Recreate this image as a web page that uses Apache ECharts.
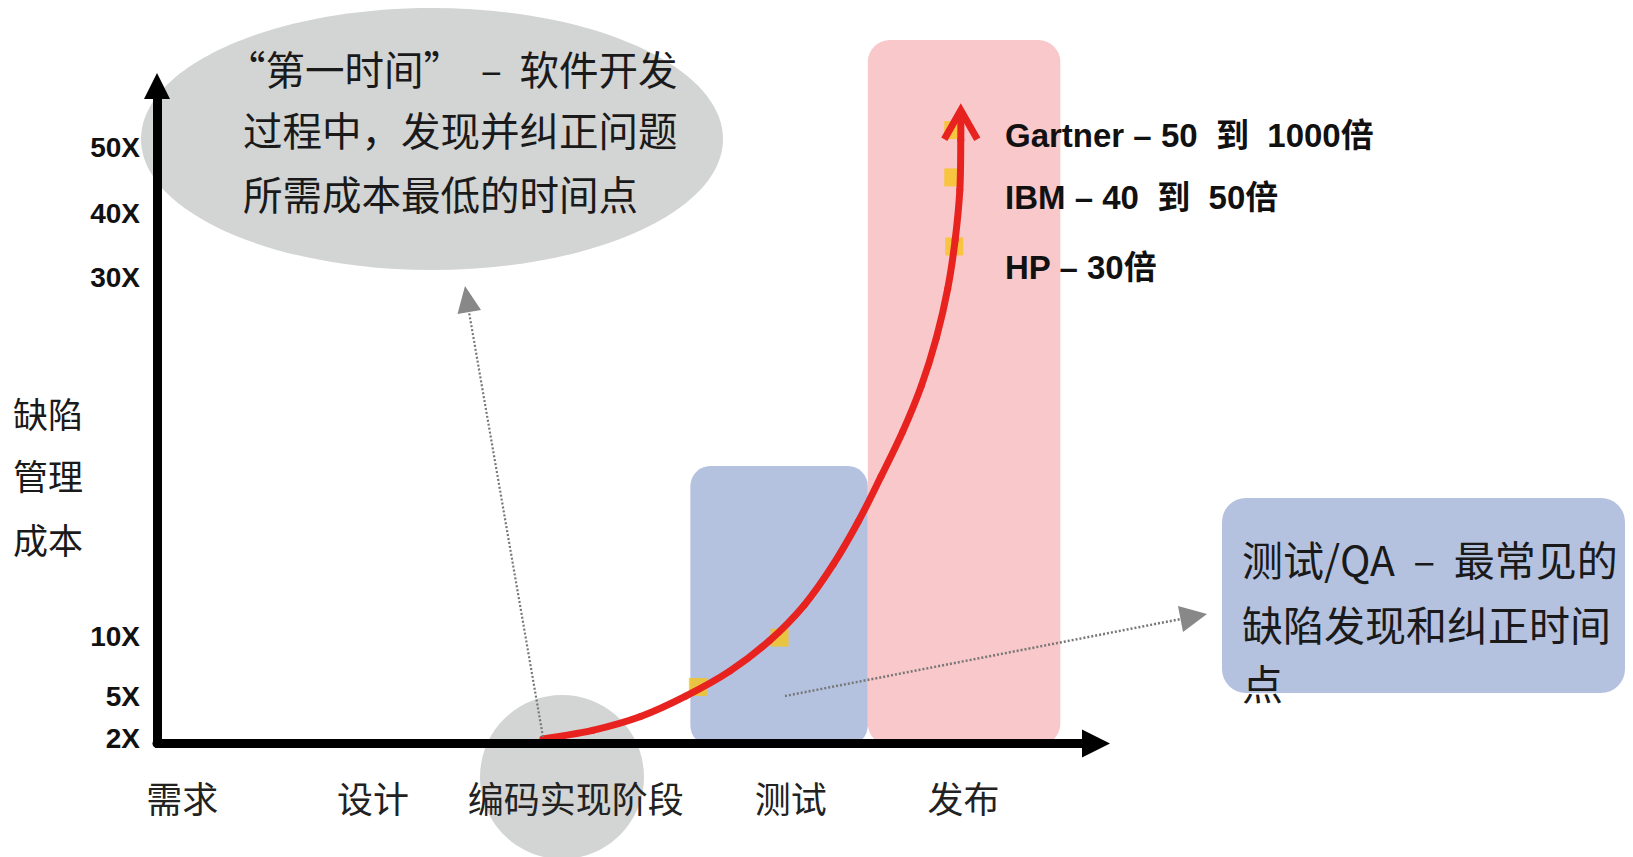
<!DOCTYPE html>
<html><head><meta charset="utf-8">
<script src="https://cdn.jsdelivr.net/npm/echarts@6/dist/echarts.min.js"></script>
<style>html,body{margin:0;padding:0;background:#fff}#c{width:1633px;height:857px}</style>
</head><body><div id="c"></div>
<script>
// ---- data ----
const categories = ['需求', '设计', '编码实现阶段', '测试', '发布'];
const categoryPos = [2.7, 23.0, 44.6, 67.5, 85.9];
const costLabels = ['2X', '5X', '10X', '30X', '40X', '50X'];
const costPos = [0.8, 7.1, 16.2, 70.8, 80.6, 90.6];
// cost curve (x = phase position, y = relative cost height)
const curveX = [41.1, 46.4, 51.5, 56.3, 61.0, 65.2, 68.9, 72.0, 74.7, 77.1, 79.4, 81.4, 83.0, 84.2, 85.0, 85.5, 85.6, 85.6];
const curveY = [0.7, 2.0, 4.1, 7.2, 11.0, 15.6, 21.0, 27.2, 33.8, 40.6, 47.4, 54.4, 61.7, 69.1, 76.6, 84.2, 91.8, 96.0];
// highlighted cost points (5X, 10X, HP 30X, IBM 40-50X, Gartner 50-1000X)
const pointNames = ['5X', '10X', 'HP', 'IBM', 'Gartner'];
const pointX = [57.6, 66.3, 84.9, 84.8, 84.8];
const pointY = [8.6, 16.1, 75.6, 86.1, 93.3];
// phase boxes
const boxNames = ['测试', '发布'];
const boxStart = [56.8, 75.7];
const boxEnd = [75.7, 96.2];
const boxTop = [42.2, 107.0];
const sourceNotes = ['Gartner – 50  到  1000倍', 'IBM – 40  到  50倍', 'HP – 30倍'];

const CJK = '"Noto Sans CJK SC", sans-serif';
const LAT = '"Liberation Sans", Arial, "Noto Sans CJK SC", sans-serif';
const boxColors = ['#b4c2e0', '#f8c8ca'];
const boxRadius = [20, 22];
const RED = '#e8231f';

const chart = echarts.init(document.getElementById('c'), null, {renderer: 'svg'});

function nearestIdx(arr, v) {
  let b = 0;
  for (let i = 1; i < arr.length; i++) if (Math.abs(arr[i] - v) < Math.abs(arr[b] - v)) b = i;
  return b;
}

function txt(text, x, y, size, opts) {
  opts = opts || {};
  return {
    type: 'text', x: x, y: y, z: 20,
    style: {
      text: text, fill: opts.fill || '#1a1a1a', fontSize: size,
      fontFamily: opts.family || CJK, fontWeight: opts.weight || 'normal',
      verticalAlign: 'middle', align: 'left'
    }
  };
}

const graphics = [
  {type: 'ellipse', z: 0, shape: {cx: 432, cy: 139, rx: 291, ry: 131}, style: {fill: '#d3d4d4'}},
  {type: 'ellipse', z: 0, shape: {cx: 562, cy: 777, rx: 82, ry: 82}, style: {fill: '#d3d4d4'}},
  {type: 'rect', z: 0, shape: {x: 1222, y: 498, width: 403, height: 195, r: 24}, style: {fill: '#b4c2e0'}},
  txt('“第一时间”  –  软件开发', 226, 67, 39.5),
  txt('过程中，发现并纠正问题', 243, 128, 39.5),
  txt('所需成本最低的时间点', 243, 192, 39.5),
  txt('测试/QA  –  最常见的', 1242, 558, 41),
  txt('缺陷发现和纠正时间', 1242, 623, 41),
  txt('点', 1242, 682, 41),
  txt('缺陷', 13, 412, 35),
  txt('管理', 13, 474, 35),
  txt('成本', 13, 538, 35),
  txt(sourceNotes[0], 1005, 135, 33, {family: LAT, weight: 'bold', fill: '#111'}),
  txt(sourceNotes[1], 1005, 197, 33, {family: LAT, weight: 'bold', fill: '#111'}),
  txt(sourceNotes[2], 1005, 267, 33, {family: LAT, weight: 'bold', fill: '#111'}),
  // dotted pointer arrows
  {type: 'line', z: 15, shape: {x1: 543, y1: 737, x2: 469, y2: 312}, style: {stroke: '#777', lineWidth: 2.2, lineDash: [2, 2]}},
  {type: 'polygon', z: 15, shape: {points: [[465, 286], [481, 310], [457.5, 314]]}, style: {fill: '#888'}},
  {type: 'line', z: 15, shape: {x1: 785, y1: 696, x2: 1181, y2: 619}, style: {stroke: '#777', lineWidth: 2.5, lineDash: [2, 2]}},
  {type: 'polygon', z: 15, shape: {points: [[1207, 614], [1183, 632], [1178, 606]]}, style: {fill: '#888'}}
];

// smooth curve drawn segment by segment (Catmull-Rom through the data points, via the axes)
function renderCurve(params, api) {
  const n = curveX.length;
  const i = params.dataIndex;
  const P = j => api.coord([curveX[Math.max(0, Math.min(n - 1, j))], curveY[Math.max(0, Math.min(n - 1, j))]]);
  if (i === n - 1) {
    const c = P(i);
    return {type: 'polyline', shape: {points: [[c[0] - 16.5, c[1] + 27], [c[0], c[1] - 2], [c[0] + 16.5, c[1] + 27]]},
      style: {stroke: RED, lineWidth: 7, lineJoin: 'miter', fill: null}};
  }
  const p0 = P(i - 1), p1 = P(i), p2 = P(i + 1), p3 = P(i + 2);
  return {
    type: 'bezierCurve',
    shape: {
      x1: p1[0], y1: p1[1], x2: p2[0], y2: p2[1],
      cpx1: p1[0] + (p2[0] - p0[0]) / 6, cpy1: p1[1] + (p2[1] - p0[1]) / 6,
      cpx2: p2[0] - (p3[0] - p1[0]) / 6, cpy2: p2[1] - (p3[1] - p1[1]) / 6
    },
    style: {stroke: RED, lineWidth: 7, lineCap: 'round', fill: null}
  };
}

const option = {
  animation: false,
  backgroundColor: '#fff',
  grid: {left: 157, right: 537, top: 86, bottom: 113.5, containLabel: false},
  xAxis: {
    type: 'value', min: 0, max: 100, z: 10,
    axisLine: {show: true, symbol: ['none', 'triangle'], symbolSize: [28, 28],
      lineStyle: {color: '#000', width: 9}},
    axisTick: {show: false}, splitLine: {show: false},
    axisLabel: {
      customValues: categoryPos, margin: 35, fontSize: 36, color: '#222', fontFamily: CJK,
      formatter: v => categories[nearestIdx(categoryPos, v)]
    }
  },
  yAxis: {
    type: 'value', min: 0, max: 100, z: 10,
    axisLine: {show: true, symbol: ['none', 'triangle'], symbolSize: [26, 26],
      lineStyle: {color: '#000', width: 9}},
    axisTick: {show: false}, splitLine: {show: false},
    axisLabel: {
      customValues: costPos, margin: 17, fontSize: 28, color: '#111', fontFamily: LAT, fontWeight: 'bold',
      formatter: v => costLabels[nearestIdx(costPos, v)]
    }
  },
  graphic: graphics,
  series: [
    {
      type: 'custom', name: '阶段', z: 1, clip: false,
      data: boxNames.map((n, i) => [boxStart[i], boxEnd[i], boxTop[i], i]),
      encode: {x: [0, 1], y: 2},
      renderItem: function (params, api) {
        const i = api.value(3);
        const p0 = api.coord([api.value(0), api.value(2)]);
        const p1 = api.coord([api.value(1), -0.3]);
        return {type: 'rect', shape: {x: p0[0], y: p0[1], width: p1[0] - p0[0], height: p1[1] - p0[1], r: boxRadius[i]},
          style: {fill: boxColors[i]}};
      }
    },
    {
      type: 'scatter', name: '成本点', z: 3, symbol: 'rect', symbolSize: 18,
      itemStyle: {color: '#f6c41c'},
      data: pointNames.map((n, i) => ({name: n, value: [pointX[i], pointY[i]]}))
    },
    {
      type: 'custom', name: '缺陷管理成本', z: 4, clip: false,
      data: curveX.map((x, i) => [x, curveY[i]]),
      encode: {x: 0, y: 1},
      renderItem: renderCurve
    }
  ]
};
chart.setOption(option);
</script>
</body></html>
